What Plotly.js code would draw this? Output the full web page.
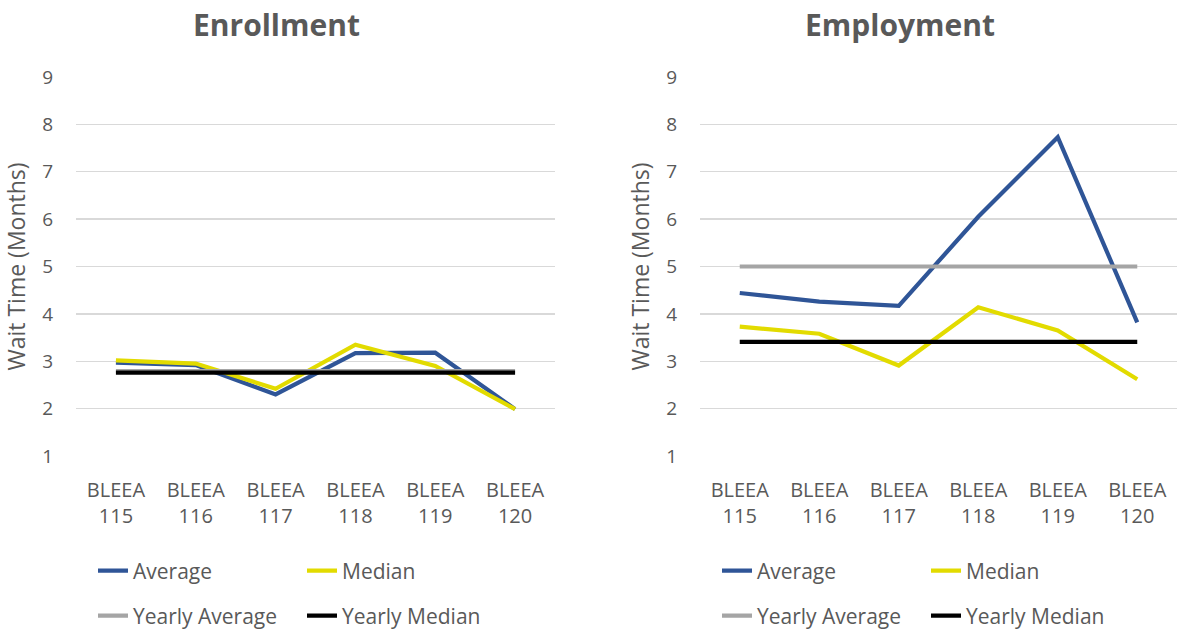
<!DOCTYPE html>
<html>
<head>
<meta charset="utf-8">
<script src="https://cdn.plot.ly/plotly-3.0.1.min.js"></script>
<style>
  html, body { margin: 0; padding: 0; background: #fff; }
  #chart { width: 1177px; height: 631px; }
</style>
</head>
<body>
<div id="chart"></div>
<script>
// ---- Data ----
const categories = ["BLEEA<br>115", "BLEEA<br>116", "BLEEA<br>117", "BLEEA<br>118", "BLEEA<br>119", "BLEEA<br>120"];

const enrollAverage       = [2.97, 2.92, 2.30, 3.17, 3.18, 1.99];
const enrollMedian        = [3.02, 2.95, 2.42, 3.35, 2.90, 1.99];
const enrollYearlyAverage = [2.79, 2.79, 2.79, 2.79, 2.79, 2.79];
const enrollYearlyMedian  = [2.76, 2.76, 2.76, 2.76, 2.76, 2.76];

const employAverage       = [4.44, 4.26, 4.17, 6.05, 7.73, 3.82];
const employMedian        = [3.73, 3.58, 2.91, 4.14, 3.65, 2.62];
const employYearlyAverage = [5.00, 5.00, 5.00, 5.00, 5.00, 5.00];
const employYearlyMedian  = [3.41, 3.41, 3.41, 3.41, 3.41, 3.41];

const yTicks = [1, 2, 3, 4, 5, 6, 7, 8, 9];
const chartTitles = ["Enrollment", "Employment"];
const yTitle = "Wait Time (Months)";
const seriesNames = ["Average", "Median", "Yearly Average", "Yearly Median"];

// ---- Styles ----
const W = 1177, H = 631;
const colors = ["#2F5597", "#E2DB00", "#A5A5A5", "#000000"];
const textColor = "#595959";
const FONT = "Open Sans, DejaVu Sans, sans-serif";

function mk(y, idx, xa, ya, legendName) {
  return {
    x: categories, y: y, type: "scatter", mode: "lines",
    name: seriesNames[idx], xaxis: xa, yaxis: ya,
    line: { color: colors[idx], width: 4.2 },
    legend: legendName, showlegend: true
  };
}

const traces = [
  mk(enrollAverage, 0, "x", "y", "legend"),
  mk(enrollMedian, 1, "x", "y", "legend"),
  mk(enrollYearlyAverage, 2, "x", "y", "legend2"),
  mk(enrollYearlyMedian, 3, "x", "y", "legend2"),
  mk(employAverage, 0, "x2", "y2", "legend3"),
  mk(employMedian, 1, "x2", "y2", "legend3"),
  mk(employYearlyAverage, 2, "x2", "y2", "legend4"),
  mk(employYearlyMedian, 3, "x2", "y2", "legend4")
];

const yDomain = [1 - 456 / H, 1 - 77 / H];

function xAxis(domain, anchor) {
  return {
    domain: domain, anchor: anchor, type: "category", range: [-0.5, 5.5],
    showgrid: false, zeroline: false, showline: false, automargin: false,
    ticks: "", ticklabelstandoff: 20,
    tickfont: { family: FONT, size: 20, color: textColor },
    fixedrange: true
  };
}
function yAxis(domain, anchor) {
  return {
    domain: domain, anchor: anchor, range: [1, 9], tickvals: yTicks,
    showgrid: true, gridcolor: "#D9D9D9", gridwidth: 1.3, automargin: false,
    zeroline: false, showline: false, ticks: "", ticklabelstandoff: 22,
    tickfont: { family: FONT, size: 19, color: textColor },
    title: { text: yTitle, font: { family: FONT, size: 23, color: textColor }, standoff: 10 },
    fixedrange: true
  };
}

function legendAt(xpx, ypx) {
  return {
    orientation: "h", x: xpx / W, xanchor: "left", y: 1 - ypx / H, yanchor: "middle",
    entrywidth: 164, entrywidthmode: "pixels", borderwidth: 0, bgcolor: "rgba(0,0,0,0)",
    font: { family: FONT, size: 21, color: textColor }, traceorder: "normal",
    itemclick: false, itemdoubleclick: false
  };
}

const layout = {
  width: W, height: H,
  margin: { l: 0, r: 0, t: 0, b: 0, autoexpand: false },
  paper_bgcolor: "#ffffff", plot_bgcolor: "#ffffff",
  showlegend: true,
  xaxis: xAxis([76 / W, 555 / W], "y"),
  yaxis: yAxis(yDomain, "x"),
  xaxis2: xAxis([700 / W, 1], "y2"),
  yaxis2: yAxis(yDomain, "x2"),
  legend: legendAt(93, 571),
  legend2: legendAt(93, 616),
  legend3: legendAt(717, 571),
  legend4: legendAt(717, 616),
  annotations: [
    { text: chartTitles[0], xref: "paper", yref: "paper", x: 276 / W, y: 1 - 25 / H,
      xanchor: "center", yanchor: "middle", showarrow: false,
      font: { family: FONT, size: 30, color: textColor, weight: "bold" } },
    { text: chartTitles[1], xref: "paper", yref: "paper", x: 900 / W, y: 1 - 25 / H,
      xanchor: "center", yanchor: "middle", showarrow: false,
      font: { family: FONT, size: 30, color: textColor, weight: "bold" } }
  ]
};

Plotly.newPlot("chart", traces, layout, { displayModeBar: false, staticPlot: true });
</script>
</body>
</html>
